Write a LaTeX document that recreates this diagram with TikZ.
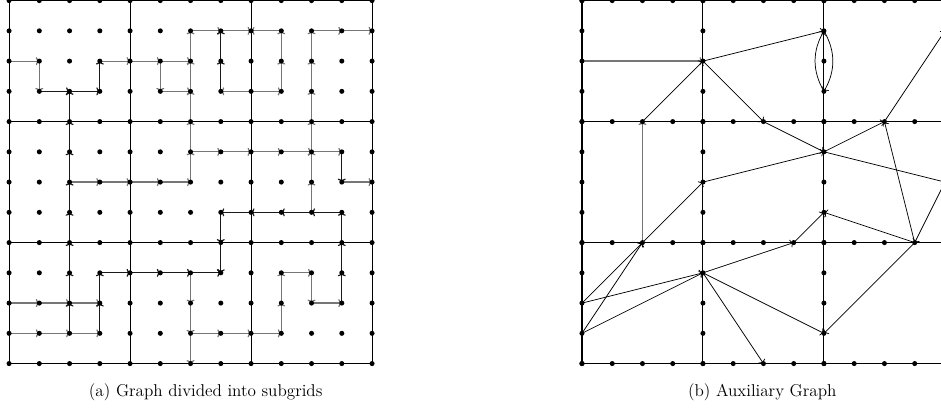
\documentclass[tikz,border=0pt]{standalone}
\usepackage{tikz}
\usepackage{xcolor}
\usetikzlibrary{arrows.meta}
\definecolor{subpath}{RGB}{118,118,118}
\definecolor{mainpath}{RGB}{25,25,25}

\begin{document}
\begin{tikzpicture}[x=0.8cm, y=-0.8cm,
    gridline/.style = {line width=0.8pt, black},
    griddot/.style = {fill=black},
    pathgray/.style = {line width=0.9pt, subpath, -{To[length=2.6pt,width=6pt]}},
    pathblack/.style = {line width=0.9pt, mainpath, -{To[length=2.6pt,width=6pt]}},
    auxedge/.style = {line width=0.55pt, black, -{To[length=2.6pt,width=6pt]}},
    auxgray/.style = {line width=1pt, subpath, -{To[length=2.6pt,width=6pt]}},
    caption/.style = {font=\fontsize{12.9}{15}\selectfont}
    ]
    \useasboundingbox (-0.3,-0.02) rectangle (30.81,13.67);

    % grid points of both pictures
    \foreach \i in {0,...,12}
        \foreach \j in {0,...,12} {
            \coordinate (a-\i-\j) at (\i,\j);
            \coordinate (b-\i-\j) at (18.94+\i,\j);
        }

    % subgrid borders
    \foreach \k in {0,4,8,12} {
        \draw[gridline] (a-\k-0) -- (a-\k-12);
        \draw[gridline] (a-0-\k) -- (a-12-\k);
        \draw[gridline] (b-\k-0) -- (b-\k-12);
        \draw[gridline] (b-0-\k) -- (b-12-\k);
    }

    % (a) paths inside the subgrids
    \foreach \p/\q in {0-2/1-2, 1-2/1-3, 3-2/4-2, 4-2/5-2, 5-2/6-2, 5-2/5-3, 5-3/6-3,
                       6-6/6-5, 6-5/6-4, 6-4/6-3, 6-3/6-2, 6-2/6-1,
                       6-1/7-1, 7-1/8-1, 9-1/8-1, 9-3/9-2, 9-2/9-1, 8-3/7-3, 8-3/9-3,
                       10-4/10-3, 10-3/10-2, 10-2/10-1, 10-1/11-1, 11-1/12-1,
                       6-5/7-5, 7-5/8-5, 8-5/9-5, 9-5/10-5, 10-5/11-5, 11-6/12-6,
                       10-7/10-6, 10-6/10-5, 10-5/10-4,
                       2-6/3-6, 3-6/4-6, 4-6/5-6, 5-6/6-6,
                       0-10/1-10, 1-10/2-10, 2-10/3-10,
                       0-11/1-11, 1-11/2-11, 2-11/3-11,
                       6-9/6-10, 6-10/6-11, 6-11/6-12,
                       6-11/7-11, 7-11/8-11, 8-11/9-11,
                       9-11/9-10, 9-10/9-9, 9-9/10-9, 10-9/10-10, 10-10/11-10}
        \draw[pathgray] (a-\p) -- (a-\q);
    \foreach \p/\q in {2-11/2-10, 2-10/2-9, 2-9/2-8, 2-8/2-7, 2-7/2-6, 2-6/2-5, 2-5/2-4, 2-4/2-3,
                       1-3/2-3, 2-3/3-3, 3-3/3-2, 7-3/7-2, 7-2/7-1,
                       11-7/10-7, 10-7/9-7, 9-7/8-7, 8-7/7-7, 7-7/7-8, 7-8/7-9,
                       11-5/11-6, 11-10/11-9, 11-9/11-8, 11-8/11-7,
                       3-11/3-10, 3-10/3-9, 3-9/4-9, 4-9/5-9, 5-9/6-9, 6-9/7-9}
        \draw[pathblack] (a-\p) -- (a-\q);

    % (b) auxiliary graph
    \draw[auxgray] (b-0-2) -- (b-4-2);
    \draw[auxgray] (b-2-8) -- (b-2-4);
    \foreach \p/\q in {2-4/4-2, 4-2/8-1, 4-2/6-4, 6-4/8-5, 4-6/8-5, 8-5/10-4, 8-5/12-6,
                       10-4/12-1, 11-8/10-4, 12-6/11-8, 11-8/8-7, 7-8/8-7, 4-9/7-8,
                       11-8/8-11, 4-9/8-11, 4-9/6-12, 0-10/4-9, 0-11/4-9,
                       0-10/2-8, 0-11/2-8, 2-8/4-6}
        \draw[auxedge] (b-\p) -- (b-\q);
    \draw[auxedge] (b-8-1) to[bend left=30] (b-8-3);
    \draw[auxedge] (b-8-3) to[bend left=30] (b-8-1);

    % dots
    \foreach \i in {0,...,12}
        \foreach \j in {0,...,12}
            \fill[griddot] (a-\i-\j) circle (1.9pt);
    \foreach \k in {0,4,8,12}
        \foreach \m in {0,...,12} {
            \fill[griddot] (b-\k-\m) circle (1.9pt);
            \fill[griddot] (b-\m-\k) circle (1.9pt);
        }

    % captions
    \node[caption] (capa) at (6.5,12.95) {(a) Graph divided into subgrids};
    \node[caption] (capb) at (24.9,12.95) {(b) Auxiliary Graph};
\end{tikzpicture}
\end{document}
